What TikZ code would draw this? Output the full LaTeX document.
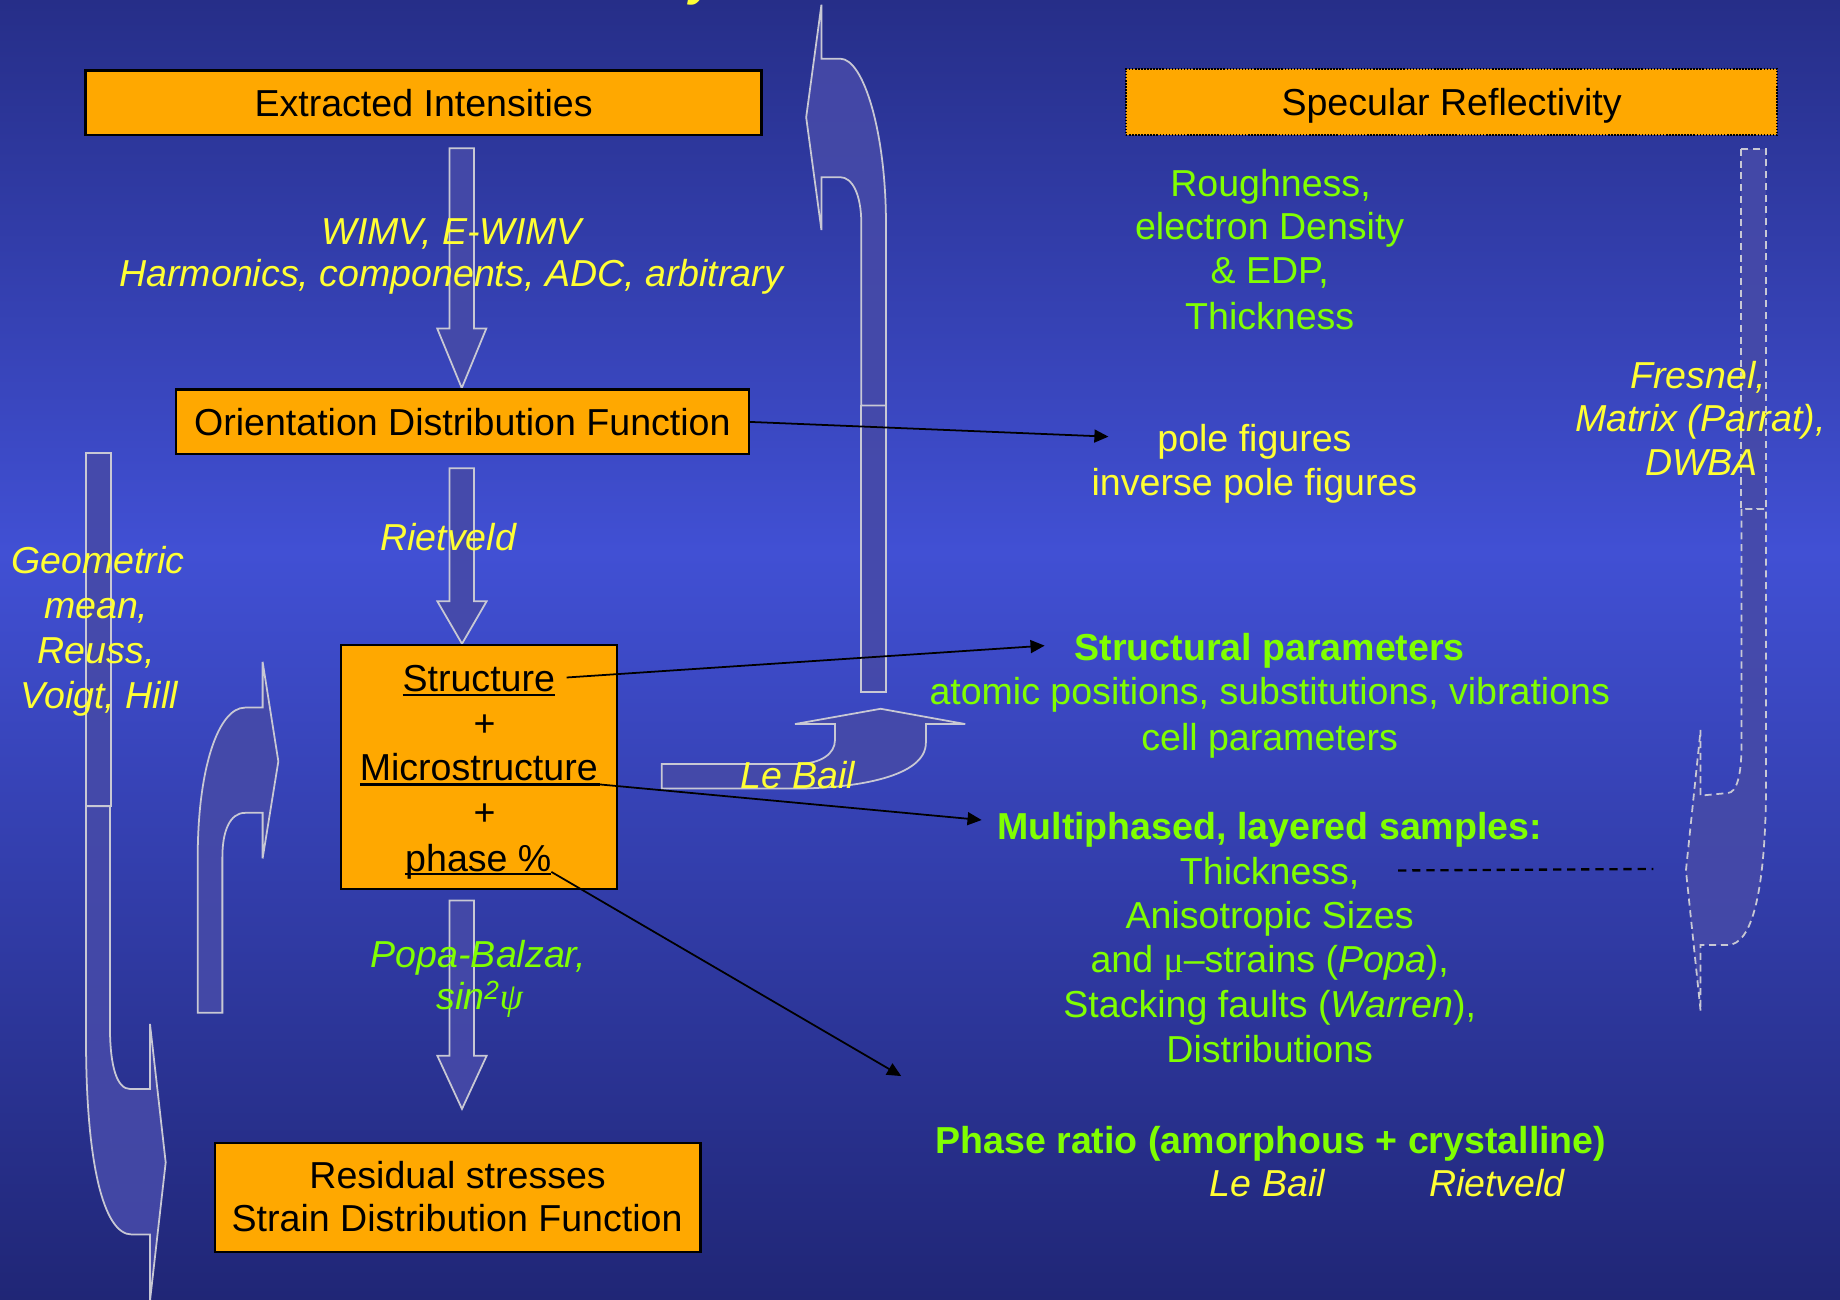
\documentclass[tikz,border=0pt]{standalone}
\usepackage{fontspec}
\setmainfont{Liberation Sans}
\newfontfamily\serifgreek{Liberation Serif}
\usetikzlibrary{arrows.meta}
\definecolor{bgtop}{RGB}{38,46,136}
\definecolor{bgmid}{RGB}{65,80,212}
\definecolor{bgbot}{RGB}{32,38,118}
\definecolor{boxorange}{RGB}{255,168,0}
\definecolor{txtyellow}{RGB}{255,255,51}
\definecolor{txtgreen}{RGB}{128,255,0}
\definecolor{arrfill}{RGB}{70,74,168}
\definecolor{arredge}{RGB}{200,200,212}
\begin{document}
\begin{tikzpicture}[x=1pt,y=-1pt,
  lbl/.style={inner sep=0pt,outer sep=0pt,text height=23pt,text depth=0pt,font=\fontsize{32}{38}\selectfont},
  blk/.style={lbl,text=black},
  yit/.style={lbl,text=txtyellow,font=\fontsize{32}{38}\selectfont\itshape},
  yup/.style={lbl,text=txtyellow},
  grn/.style={lbl,text=txtgreen},
  grnb/.style={lbl,text=txtgreen,font=\fontsize{32}{38}\selectfont\bfseries},
  grnit/.style={lbl,text=txtgreen,font=\fontsize{32}{38}\selectfont\itshape},
  orbox/.style={draw=black,line width=2pt,fill=boxorange,inner sep=0pt,outer sep=0pt,
    text height=23pt,text depth=0pt,font=\fontsize{32}{38}\selectfont},
  blockarrow/.style={draw=arredge,line width=1.5pt,fill=arrfill,fill opacity=0.9,line join=miter},
  dblockarrow/.style={blockarrow,dash pattern=on 6pt off 4pt},
  conn/.style={draw=black,line width=1.5pt,-{Triangle[length=12pt,width=11pt]}},
  uline/.style={draw=black,line width=2pt}
]
\useasboundingbox (0,0) rectangle (1568,1107);
% background
\shade[top color=bgtop,bottom color=bgmid] (0,0) rectangle (1568,471);
\shade[top color=bgmid,bottom color=bgbot] (0,470) rectangle (1568,1107);

% title fragment cut off at the top
\node[anchor=base,inner sep=0pt,text=txtyellow,font=\fontsize{40}{48}\selectfont\bfseries\itshape] (ttl) at (599,-4) {y};

% ---- block arrows ----
% straight down arrows
\path[blockarrow] (383,126.4) -- (383,280) -- (372.6,280) -- (393.5,330.7) -- (414.4,280) -- (404,280) -- (404,126.4) -- cycle;
\path[blockarrow] (383,399) -- (383,512.4) -- (372.7,512.4) -- (393.7,548.6) -- (414.7,512.4) -- (404,512.4) -- (404,399) -- cycle;
\path[blockarrow] (383,767.4) -- (383,899.7) -- (372.7,899.7) -- (393.7,945) -- (414.7,899.7) -- (404,899.7) -- (404,767.4) -- cycle;
% centre arrow going up, curving left
\path[blockarrow] (733.5,345.6) rectangle (755,590);
\path[blockarrow] (734,345.6) -- (734,191) .. controls (734,165) and (726,151) .. (716,151) -- (700,151) -- (700,196) -- (687,100) -- (700,4) -- (700,50) -- (716,50) .. controls (736,50) and (755,113) .. (755,191) -- (755,345.6) -- cycle;
% Le Bail arrow
\path[blockarrow] (564,651) -- (679,651) .. controls (700,651) and (711.5,642) .. (711.5,631) -- (711.5,617) -- (677.5,617) -- (750.5,604) -- (822.5,617) -- (789,617) -- (789,633) .. controls (789,662) and (730,671.5) .. (679,672) -- (564,672) -- cycle;
% left long arrow
\path[blockarrow] (73.3,386.3) rectangle (94.6,687);
\path[blockarrow] (73.3,687) -- (73.3,886) .. controls (73.3,990) and (88,1052) .. (112.2,1052) -- (127.8,1052) -- (127.8,1108.7) -- (141.2,990.6) -- (127.8,872.5) -- (127.8,928) -- (110.8,928) .. controls (100,928) and (93.7,910) .. (93.7,874.8) -- (93.7,687) -- cycle;
% left small arrow
\path[blockarrow] (168.5,863) -- (168.5,730.5) .. controls (168.5,655) and (186,603) .. (208.8,603) -- (223.8,603) -- (223.8,564) -- (237.2,648.8) -- (223.8,731.5) -- (223.8,692.7) -- (208.8,692.7) .. controls (196,692.7) and (189.5,708) .. (189.5,730.5) -- (189.5,863) -- cycle;
% right dashed arrow
\path[dblockarrow] (1483.6,126.9) rectangle (1504.9,433.7);
\path[dblockarrow] (1484,433.7) -- (1484,636.6) .. controls (1484,660) and (1480,675.8) .. (1472.2,675.8) -- (1449.2,678) -- (1449.2,622) -- (1436.7,741.8) -- (1449.2,861.6) -- (1449.2,805.3) -- (1472.2,805.3) .. controls (1493,805.3) and (1505,760) .. (1505,663.6) -- (1505,433.7) -- cycle;

% ---- boxes ----
\node[orbox,minimum width=576pt,minimum height=55pt] (ext) at (361,87.5) {Extracted Intensities};
\node[orbox,minimum width=488pt,minimum height=55pt] (odf) at (394,359.5) {Orientation Distribution Function};
\node[orbox,draw=black,line width=1.3pt,dash pattern=on 1.3pt off 1.3pt,minimum width=555pt,minimum height=56pt] (spec) at (1237,87) {Specular Reflectivity};
\node[orbox,minimum width=235pt,minimum height=208pt] (struct) at (408.3,653.5) {};
\node[orbox,minimum width=414pt,minimum height=93pt] (resid) at (390,1020.5) {};

% box texts
\node[blk] (s1) at (408,578) {Structure};
\node[blk] (s2) at (413,616) {+};
\node[blk] (s3) at (408,654) {Microstructure};
\node[blk] (s4) at (413,692) {+};
\node[blk] (s5) at (407.6,731.5) {phase \%};
\draw[uline] ([yshift=-3pt]s1.south west) -- ([yshift=-3pt]s1.south east);
\draw[uline] ([yshift=-3pt]s3.south west) -- ([xshift=2pt,yshift=-3pt]s3.south east);
\draw[uline] ([yshift=-2pt]s5.south west) -- ([yshift=-2pt]s5.south east);
\node[blk] (r1) at (390,1001) {Residual stresses};
\node[blk] (r2) at (389.5,1038) {Strain Distribution Function};

% ---- left / centre labels ----
\node[yit] (m1) at (385,196.7) {WIMV, E-WIMV};
\node[yit] (m2) at (384.5,233) {Harmonics, components, ADC, arbitrary};
\node[yit] (riet) at (382,458) {Rietveld};
\node[yit] (g1) at (83.5,477) {Geometric};
\node[yit] (g2) at (82,515.7) {mean,};
\node[yit] (g3) at (82,553.5) {Reuss,};
\node[yit] (g4) at (84.7,592.5) {Voigt, Hill};
\node[grnit] (pb1) at (407.6,813) {Popa-Balzar,};
\node[grnit] (pb2) at (408.8,849) {sin\textsuperscript{2}{\serifgreek\itshape ψ}};
\node[yit] (lb) at (679.7,660.4) {Le Bail};

% ---- right labels ----
\node[grn] (rg1) at (1082.7,156) {Roughness,};
\node[grn] (rg2) at (1082,193) {electron Density};
\node[grn] (rg3) at (1082,230) {\& EDP,};
\node[grn] (rg4) at (1082,269) {Thickness};
\node[yup] (pf1) at (1069,373) {pole figures};
\node[yup] (pf2) at (1069,410.5) {inverse pole figures};
\node[yit] (fr1) at (1447,319.6) {Fresnel,};
\node[yit] (fr2) at (1449,356.5) {Matrix (Parrat),};
\node[yit] (fr3) at (1450,394) {DWBA};
\node[grnb] (sp1) at (1082,551.7) {Structural parameters};
\node[grn] (sp2) at (1082,589) {atomic positions, substitutions, vibrations};
\node[grn] (sp3) at (1082,627.7) {cell parameters};
\node[grnb] (ml1) at (1082,703.7) {Multiphased, layered samples:};
\node[grn] (ml2) at (1082,742) {Thickness,};
\node[grn] (ml3) at (1082,779.7) {Anisotropic Sizes};
\node[grn] (ml4) at (1082,817.4) {and {\serifgreek μ}–strains (\textit{Popa}),};
\node[grn] (ml5) at (1082,855.7) {Stacking faults (\textit{Warren}),};
\node[grn] (ml6) at (1082,894) {Distributions};
\node[grnb] (ph1) at (1083,971.5) {Phase ratio (amorphous + crystalline)};
\node[yit] (ph2) at (1080,1007.7) {Le Bail};
\node[yit] (ph3) at (1275.6,1007.7) {Rietveld};

% ---- connectors ----
\coordinate (tpole) at (944.6,372.1);
\coordinate (tstruct) at (890.2,550.2);
\coordinate (tmulti) at (836.5,698.8);
\coordinate (tphase) at (768,917);
\coordinate (dlend) at (1409,740.5);
\draw[conn] (odf.east) -- (tpole);
\draw[conn,shorten <=10pt] (s1.east) -- (tstruct);
\draw[conn] ([xshift=2pt,yshift=-3pt]s3.south east) -- (tmulti);
\draw[conn] (s5.south east) -- (tphase);
\draw[black,line width=2pt,dash pattern=on 7pt off 5pt,shorten <=33pt] (ml2.east) -- (dlend);
\end{tikzpicture}
\end{document}
